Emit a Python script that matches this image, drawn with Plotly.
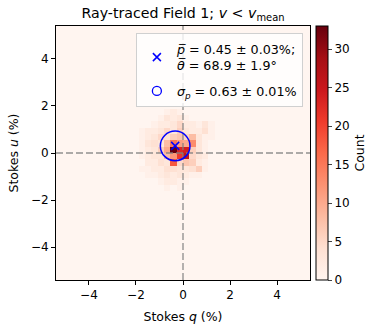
"""
Ray-traced Field 1: Stokes q/u 2D histogram
"""
import numpy as np
import plotly.graph_objects as go

# bin grid (40 x 40 bins over +-5.4 %)
edge_lo, edge_hi, n_bins = -5.4, 5.4, 40

# central block of counts, rows from u bin +6 (top) down to -6,
# columns from q bin -7 to +5 (bin k covers [0.27k, 0.27(k+1)])
block_cols = list(range(-7, 6))
block_rows = list(range(6, -7, -1))
block_counts = [
    [0, 0, 0, 0, 1, 2, 1, 0, 0, 0, 0, 0, 0],
    [0, 0, 0, 1, 3, 2, 3, 1, 0, 0, 0, 0, 0],
    [0, 0, 1, 2, 2, 3, 5, 2, 2, 1, 3, 1, 0],
    [1, 2, 2, 3, 5, 3, 6, 3, 2, 2, 4, 1, 0],
    [1, 2, 3, 5, 4, 6, 7, 5, 8, 3, 1, 1, 0],
    [1, 3, 4, 3, 8, 15, 11, 10, 13, 3, 1, 0, 0],
    [1, 2, 3, 6, 10, 33, 23, 24, 6, 3, 1, 0, 0],
    [1, 2, 3, 3, 8, 12, 21, 26, 5, 3, 2, 0, 0],
    [0, 2, 2, 4, 3, 18, 5, 7, 6, 2, 1, 0, 0],
    [1, 1, 2, 2, 4, 4, 3, 3, 4, 6, 1, 0, 0],
    [0, 1, 1, 2, 3, 2, 3, 2, 1, 1, 0, 0, 0],
    [0, 0, 0, 1, 2, 2, 1, 1, 0, 0, 0, 0, 0],
    [0, 0, 0, 0, 1, 0, 1, 0, 0, 0, 0, 0, 0],
]

# summary statistics
p_mean, p_err = 0.45, 0.03
theta_mean, theta_err = 68.9, 1.9
sigma_p, sigma_err = 0.63, 0.01

tick_vals = [-4, -2, 0, 2, 4]
cbar_ticks = [0, 5, 10, 15, 20, 25, 30]
z_max = 33

# build grid
edges = np.linspace(edge_lo, edge_hi, n_bins + 1)
centers = 0.5 * (edges[:-1] + edges[1:])
counts = np.zeros((n_bins, n_bins))
for r, j in enumerate(block_rows):
    for c, k in enumerate(block_cols):
        counts[j + n_bins // 2, k + n_bins // 2] = block_counts[r][c]

q_mean = p_mean * np.cos(np.radians(2 * theta_mean))
u_mean = p_mean * np.sin(np.radians(2 * theta_mean))

FONT = 'DejaVu Sans'

fig = go.Figure()

fig.add_trace(go.Heatmap(
    x=centers, y=centers, z=counts,
    colorscale='Reds', zmin=0, zmax=z_max,
    showscale=True,
    colorbar=dict(
        x=1.025, xanchor='left', xpad=0, y=0.5, len=1, lenmode='fraction',
        ypad=0, thickness=12, outlinewidth=1, outlinecolor='black',
        tickvals=cbar_ticks, ticks='outside', ticklen=4,
        tickfont=dict(size=12, color='black', family=FONT),
        title=dict(text='Count', side='right',
                   font=dict(size=12.5, color='black', family=FONT)),
    ),
    hoverinfo='skip',
))

fig.add_trace(go.Scatter(
    x=[q_mean], y=[u_mean], mode='markers', legendgroup='mean',
    marker=dict(symbol='x-thin', size=8, color='blue',
                line=dict(width=1.5, color='blue')),
    name=(f'<i>p&#773;</i> = {p_mean:.2f} ± {p_err:.2f}%;<br>'
          f'<i>θ&#773;</i> = {theta_mean:.1f} ± {theta_err:.1f}°'),
))

fig.add_trace(go.Scatter(
    x=[None], y=[None], mode='markers', legendgroup='sigma',
    marker=dict(symbol='circle-open', size=9, color='blue',
                line=dict(width=1.3, color='blue')),
    name=f'<i>σ<sub>p</sub></i> = {sigma_p:.2f} ± {sigma_err:.2f}%',
))

dash_line = dict(color='rgba(128,128,128,0.65)', width=1.8, dash='7px,3px')
fig.add_shape(type='line', xref='x', yref='y', x0=0, x1=0,
              y0=edge_lo, y1=edge_hi, line=dash_line, layer='above')
fig.add_shape(type='line', xref='x', yref='y', y0=0, y1=0,
              x0=edge_lo, x1=edge_hi, line=dash_line, layer='above')
fig.add_shape(type='circle', xref='x', yref='y',
              x0=q_mean - sigma_p, x1=q_mean + sigma_p,
              y0=u_mean - sigma_p, y1=u_mean + sigma_p,
              line=dict(color='blue', width=1.5), layer='above')

axis_style = dict(
    range=[edge_lo, edge_hi], tickvals=tick_vals, ticks='outside',
    ticklen=4, tickcolor='black', showline=True, mirror=True,
    linecolor='black', linewidth=1, showgrid=False, zeroline=False,
    automargin=False,
    tickfont=dict(size=12, color='black', family=FONT),
)

fig.update_layout(
    width=389, height=330,
    margin=dict(l=56, r=79, t=26, b=50),
    paper_bgcolor='white', plot_bgcolor='#fff5f0',
    font=dict(family=FONT, color='black'),
    title=dict(
        text='Ray-traced Field 1; <i>v</i> &lt; <i>v</i><sub>mean</sub>',
        x=(56 + 127) / 389, xanchor='center', y=1 - 13 / 330,
        yanchor='middle', font=dict(size=14.2, color='black', family=FONT),
    ),
    xaxis=dict(axis_style, title=dict(text='Stokes <i>q</i> (%)', standoff=10,
                                      font=dict(size=12.5))),
    yaxis=dict(axis_style, title=dict(text='Stokes <i>u</i> (%)', standoff=9,
                                      font=dict(size=12.5))),
    legend=dict(
        x=0.972, y=0.972, xanchor='right', yanchor='top',
        bgcolor='rgba(255,255,255,0.8)', bordercolor='#d0d0d0',
        borderwidth=1, font=dict(size=12.7, family=FONT, color='black'),
        tracegroupgap=6,
    ),
)

# drop the browser's default 8px body margin so the figure sits at (0, 0)
fig.write_html("out.html", config={'displayModeBar': False},
               post_script="document.body.style.margin = '0';")
